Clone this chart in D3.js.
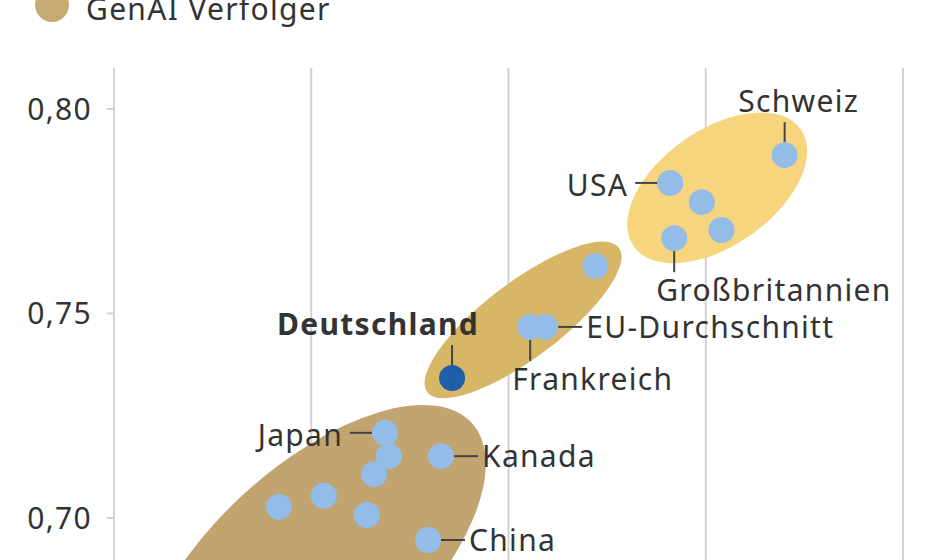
<!DOCTYPE html>
<html><head><meta charset="utf-8">
<script src="https://cdn.jsdelivr.net/npm/d3@7"></script>
<style>
html,body{margin:0;padding:0;background:#fff;}
svg{display:block;font-family:"Noto Sans",sans-serif;}
</style></head>
<body>
<svg id="chart" width="940" height="560"></svg>
<script>
// ---- data ----
const countries = ["Schweiz","USA","","","Großbritannien","","Frankreich","EU-Durchschnitt","Deutschland","Japan","","","","","","Kanada","China"];
const xValues   = [0.570,0.541,0.549,0.554,0.542,0.522,0.5055,0.5093,0.4857,0.4687,0.4697,0.4659,0.4532,0.4418,0.4641,0.4829,0.4796];
const yValues   = [0.7886,0.7818,0.7771,0.7703,0.7683,0.7615,0.7466,0.7466,0.7341,0.7207,0.7150,0.7106,0.7053,0.7026,0.7006,0.7150,0.6945];
const highlight = ["Deutschland"];
const yTicks = [0.70,0.75,0.80];
const xTicks = [0.40,0.45,0.50,0.55,0.60];
const clusterNames = ["Vorreiter","Mittelfeld","Verfolger"];
const clusterX = [0.5529,0.5037,0.4504];
const clusterY = [0.7806,0.7483,0.6877];
const legendLabels = ["GenAI Verfolger"];

// ---- layout ----
const svg = d3.select("#chart");
const x = d3.scaleLinear().domain([0.40,0.60]).range([114,903]);
const y = d3.scaleLinear().domain([0.70,0.80]).range([517.5,108.5]);
const gridTop = 68;
const textColor = "#333333";
const fontSize = 30;
const ls = "1.3px";

// gridlines (vertical)
svg.append("g").selectAll("line").data(xTicks).join("line")
  .attr("x1",d=>x(d)).attr("x2",d=>x(d))
  .attr("y1",gridTop).attr("y2",600)
  .attr("stroke","#d2d2d2").attr("stroke-width",2);

// y axis
const yAxis = d3.axisLeft(y).tickValues(yTicks).tickSize(7).tickPadding(15)
  .tickFormat(d=>d3.format(".2f")(d).replace(".",","));
const ya = svg.append("g").attr("transform",`translate(${x(0.40)},0)`).call(yAxis);
ya.select(".domain").remove();
ya.selectAll(".tick line").attr("stroke","#d2d2d2").attr("stroke-width",2);
ya.selectAll(".tick text").attr("fill",textColor).attr("font-size",fontSize)
  .attr("letter-spacing",ls)
  .attr("font-family","'Noto Sans',sans-serif").attr("dy","0.36em");

// cluster ellipses
const ellColors = ["#f7d57f","#d8b668","#c1a46f"];
const ellShape = [ {rx:102,ry:58,rot:-35}, {rx:120,ry:38,rot:-37}, {rx:215,ry:101,rot:-42.3} ];
svg.append("g").selectAll("ellipse").data(clusterNames).join("ellipse")
  .attr("transform",(d,i)=>`translate(${x(clusterX[i])},${y(clusterY[i])}) rotate(${ellShape[i].rot})`)
  .attr("rx",(d,i)=>ellShape[i].rx).attr("ry",(d,i)=>ellShape[i].ry)
  .attr("fill",(d,i)=>ellColors[i]);

// points
const pts = countries.map((c,i)=>({name:c,x:xValues[i],y:yValues[i]}));
svg.append("g").selectAll("circle").data(pts).join("circle")
  .attr("cx",d=>x(d.x)).attr("cy",d=>y(d.y)).attr("r",13)
  .attr("fill",d=>highlight.includes(d.name)?"#1f5ea8":"#93bde8");

// labels
const labelDir = {"Schweiz":"above","USA":"left","Großbritannien":"below","Frankreich":"below",
  "EU-Durchschnitt":"right","Deutschland":"above","Japan":"left","Kanada":"right","China":"right"};
const lab = svg.append("g");
pts.filter(d=>d.name).forEach(d=>{
  const cx = x(d.x), cy = y(d.y), dir = labelDir[d.name];
  let l, t;
  if(dir==="above"){ l=[cx,cy-13,cx,cy-33]; t={x:cx+(d.name==="Deutschland"?27:14),y:cy-43,a:d.name==="Deutschland"?"end":"middle"}; }
  if(dir==="below"){ l=[cx,cy+13,cx,cy+34]; t={x:cx-18,y:cy+63,a:"start"}; }
  if(dir==="left"){ l=[cx-35,cy,cx-13,cy]; t={x:cx-42,y:cy+13,a:"end"}; }
  if(dir==="right"){ l=[cx+13,cy,cx+37,cy]; t={x:cx+41,y:cy+11,a:"start"}; }
  lab.append("line").attr("x1",l[0]).attr("y1",l[1]).attr("x2",l[2]).attr("y2",l[3])
    .attr("stroke","#444").attr("stroke-width",2);
  lab.append("text").attr("x",t.x).attr("y",t.y).attr("text-anchor",t.a)
    .attr("font-size",fontSize).attr("fill",textColor).attr("letter-spacing",ls)
    .attr("font-weight",highlight.includes(d.name)?"bold":"normal")
    .text(d.name);
});

// legend (cropped at top, as in the reference)
const lg = svg.append("g");
lg.selectAll("circle").data(legendLabels).join("circle")
  .attr("cx",52).attr("cy",5).attr("r",17).attr("fill","#c6aa72");
lg.selectAll("text").data(legendLabels).join("text")
  .attr("x",86).attr("y",20).attr("font-size",fontSize).attr("letter-spacing",ls)
  .attr("fill",textColor).text(d=>d);
</script>
</body></html>
